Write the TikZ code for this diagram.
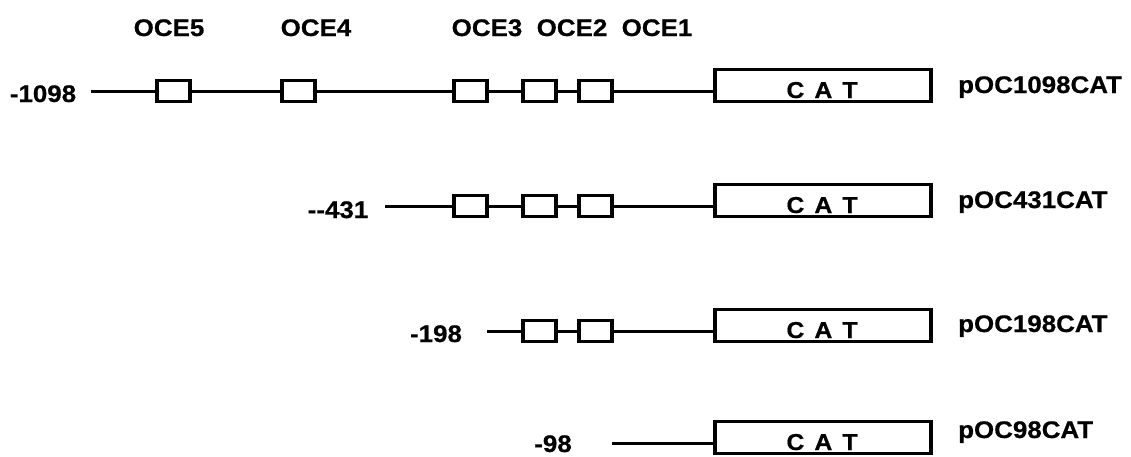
\documentclass[tikz,border=0pt]{standalone}
\usepackage{fontspec}
\newfontfamily\labfont{Liberation Sans}[FakeStretch=1.08,BoldFeatures={FakeBold=0.6}]
\begin{document}
\begin{tikzpicture}[x=1pt,y=-1pt,
  wire/.style={line width=3pt},
  oce/.style={draw,line width=3.2pt,minimum width=33pt,minimum height=21pt,inner sep=0pt},
  catbox/.style={draw,line width=3.2pt,minimum width=216pt,minimum height=32pt,inner sep=0pt},
  lbl/.style={inner sep=0pt,font=\labfont\bfseries\fontsize{24}{24}\selectfont},
  catlbl/.style={inner sep=0pt,font=\labfont\bfseries\fontsize{23}{23}\selectfont}
]
\useasboundingbox (0,0) rectangle (1131,456);
\clip (0,0) rectangle (1131,456);

% element names along the top
\node[lbl,anchor=base] (t5) at (169,36) {OCE5};
\node[lbl,anchor=base] (t4) at (316,36) {OCE4};
\node[lbl,anchor=base] (t3) at (487,36) {OCE3};
\node[lbl,anchor=base] (t2) at (572,36) {OCE2};
\node[lbl,anchor=base] (t1) at (657,36) {OCE1};

% row 1: -1098
\coordinate (s1) at (91,91);
\node[oce] (r1e5) at (173.5,91) {};
\node[oce] (r1e4) at (298.5,91) {};
\node[oce] (r1e3) at (470.5,91) {};
\node[oce] (r1e2) at (539.5,91) {};
\node[oce] (r1e1) at (595.5,91) {};
\node[catbox] (c1) at (823,85.5) {};
\node[catlbl,anchor=base] (k1) at (822,98) {C\hspace{10pt}A\hspace{10pt}T};
\node[lbl,anchor=base] (n1) at (43,102) {-1098};
\node[lbl,anchor=base west] (p1) at (958,93) {pOC1098CAT};
\draw[wire] (s1) -- (r1e5.west) (r1e5.east) -- (r1e4.west) (r1e4.east) -- (r1e3.west)
  (r1e3.east) -- (r1e2.west) (r1e2.east) -- (r1e1.west) (r1e1.east) -- (c1.west |- s1);

% row 2: -431
\coordinate (s2) at (385,206);
\node[oce] (r2e3) at (470.5,206) {};
\node[oce] (r2e2) at (539.5,206) {};
\node[oce] (r2e1) at (595.5,206) {};
\node[catbox] (c2) at (823,200.5) {};
\node[catlbl,anchor=base] (k2) at (822,213) {C\hspace{10pt}A\hspace{10pt}T};
\node[lbl,anchor=base] (n2) at (338,218) {-{}-431};
\node[lbl,anchor=base west] (p2) at (958,208) {pOC431CAT};
\draw[wire] (s2) -- (r2e3.west) (r2e3.east) -- (r2e2.west) (r2e2.east) -- (r2e1.west)
  (r2e1.east) -- (c2.west |- s2);

% row 3: -198
\coordinate (s3) at (487,331);
\node[oce] (r3e2) at (539.5,331) {};
\node[oce] (r3e1) at (595.5,331) {};
\node[catbox] (c3) at (823,325.5) {};
\node[catlbl,anchor=base] (k3) at (822,338) {C\hspace{10pt}A\hspace{10pt}T};
\node[lbl,anchor=base] (n3) at (436,342) {-198};
\node[lbl,anchor=base west] (p3) at (958,332) {pOC198CAT};
\draw[wire] (s3) -- (r3e2.west) (r3e2.east) -- (r3e1.west) (r3e1.east) -- (c3.west |- s3);

% row 4: -98
\coordinate (s4) at (612,443);
\node[catbox] (c4) at (823,437.5) {};
\node[catlbl,anchor=base] (k4) at (822,450) {C\hspace{10pt}A\hspace{10pt}T};
\node[lbl,anchor=base] (n4) at (553,452) {-98};
\node[lbl,anchor=base west] (p4) at (958,438) {pOC98CAT};
\draw[wire] (s4) -- (c4.west |- s4);
\end{tikzpicture}
\end{document}
